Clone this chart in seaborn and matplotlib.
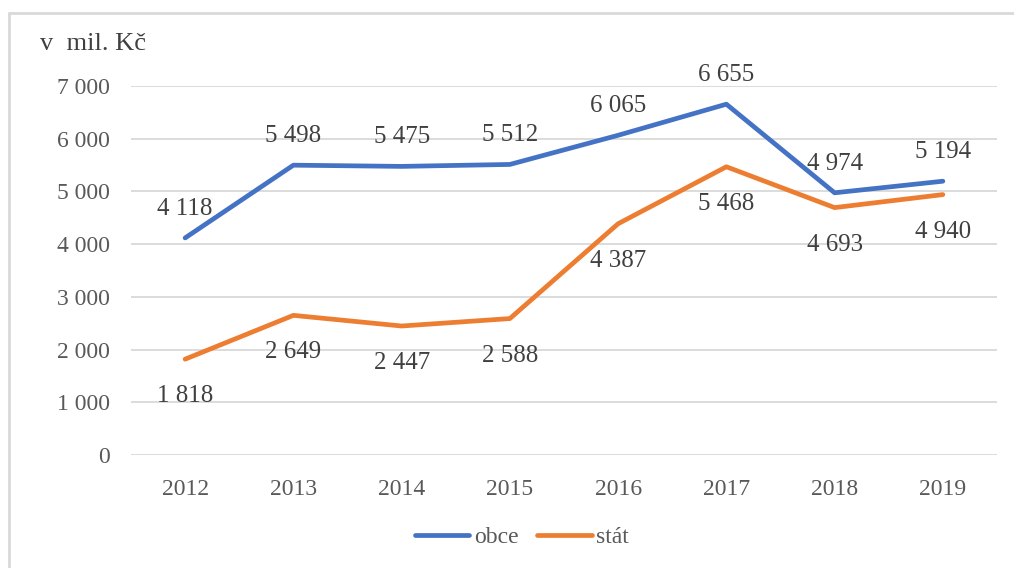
import matplotlib
matplotlib.use("Agg")
import matplotlib.pyplot as plt
import seaborn as sns
import pandas as pd
from matplotlib.lines import Line2D

years = ["2012", "2013", "2014", "2015", "2016", "2017", "2018", "2019"]
obce = [4118, 5498, 5475, 5512, 6065, 6655, 4974, 5194]
stat = [1818, 2649, 2447, 2588, 4387, 5468, 4693, 4940]
yticks = [0, 1000, 2000, 3000, 4000, 5000, 6000, 7000]

sns.set_theme(style="white")
plt.rcParams["font.family"] = ["Liberation Serif", "DejaVu Serif"]

def fmt(v):
    return f"{v:,}".replace(",", " ")

df = pd.DataFrame({
    "rok": years * 2,
    "hodnota": obce + stat,
    "serie": ["obce"] * len(years) + ["stát"] * len(years),
})
df["x"] = list(range(len(years))) * 2

colors = {"obce": "#4472C4", "stát": "#ED7D31"}

fig = plt.figure(figsize=(10.14, 5.68), dpi=100)
ax = fig.add_axes([131 / 1014, 1 - 455 / 568, 866 / 1014, (455 - 86) / 568])

sns.lineplot(data=df, x="x", y="hodnota", hue="serie", palette=colors,
             linewidth=3.4, ax=ax, legend=False, sort=False)
for l in ax.lines:
    l.set_solid_capstyle("round")
    l.set_solid_joinstyle("round")

ax.set_xlim(-0.5, len(years) - 0.5)
ax.set_ylim(0, 7000)
ax.set_yticks(yticks)
ax.set_yticklabels([fmt(v) for v in yticks])
ax.set_xticks(range(len(years)))
ax.set_xticklabels(years)
ax.tick_params(axis="both", length=0, labelsize=17, labelcolor="#595959")
ax.tick_params(axis="y", pad=15)
ax.tick_params(axis="x", pad=17)
ax.set_xlabel("")
ax.set_ylabel("")
ax.yaxis.grid(True, color="#D9D9D9", linewidth=1.3)
ax.set_axisbelow(True)
for s in ax.spines.values():
    s.set_visible(False)

for i, v in enumerate(obce):
    ax.annotate(fmt(v), (i, v), xytext=(0, 29), textcoords="offset pixels",
                ha="center", va="center", fontsize=18, color="#404040")
for i, v in enumerate(stat):
    ax.annotate(fmt(v), (i, v), xytext=(0, -37), textcoords="offset pixels",
                ha="center", va="center", fontsize=18, color="#404040")

fig.text(40 / 1014, 1 - 44 / 568, "v  mil. Kč", fontsize=19, color="#404040",
         ha="left", va="center")

handles = [Line2D([0], [0], color=colors["obce"], lw=3.4, solid_capstyle="round"),
           Line2D([0], [0], color=colors["stát"], lw=3.4, solid_capstyle="round")]
fig.legend(handles, ["obce", "stát"], loc="center", bbox_to_anchor=(522 / 1014, 1 - 537 / 568),
           ncol=2, frameon=False, fontsize=17, labelcolor="#595959",
           handlelength=2.3, handletextpad=0.2, columnspacing=0.8)

# outer border
fig.add_artist(Line2D([9 / 1014, 1.0], [1 - 13 / 568, 1 - 13 / 568], color="#D9D9D9", lw=2,
                      transform=fig.transFigure))
fig.add_artist(Line2D([9 / 1014, 9 / 1014], [0.0, 1 - 13 / 568], color="#D9D9D9", lw=2,
                      transform=fig.transFigure))

fig.savefig("out.png", dpi=100)
